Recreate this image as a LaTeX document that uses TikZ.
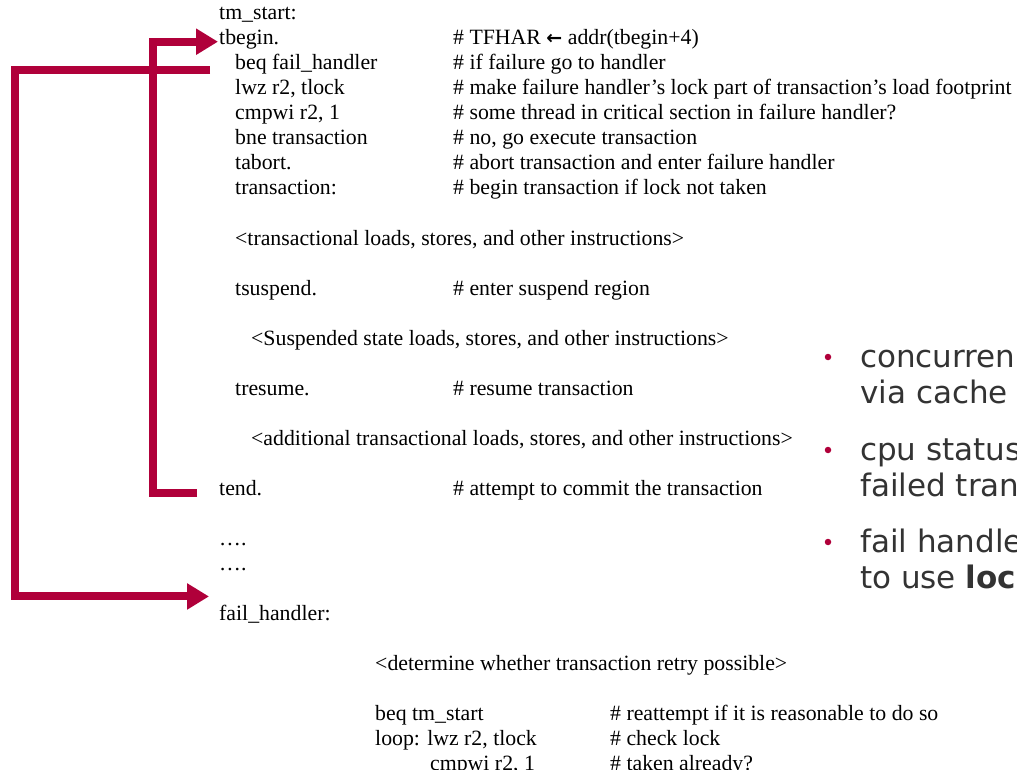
\documentclass[tikz,border=0pt]{standalone}
\usepackage{fontspec}
\setmainfont{Liberation Serif}
\newfontfamily\bulletfont{DejaVu Sans}
\usetikzlibrary{arrows.meta}
\definecolor{jumpred}{RGB}{176,0,58}
\definecolor{bodygray}{RGB}{51,51,51}
\tikzset{
  code/.style={anchor=base west, inner sep=0pt, font=\fontsize{21.8}{25}\selectfont},
  bullettext/.style={anchor=base west, inner sep=0pt, text=bodygray,
    font=\bulletfont\fontsize{31}{36}\selectfont},
  bulletdot/.style={circle, fill=jumpred, inner sep=0pt, minimum size=6.5pt},
  jump/.style={draw=jumpred, line width=8pt, line join=miter,
    -{Triangle[length=22pt,width=25pt]}}
}
\newcommand{\heavyleft}{{\bulletfont\bfseries\fontsize{19}{19}\selectfont ←}}
\begin{document}
\begin{tikzpicture}[x=1pt,y=-1pt]
\useasboundingbox (0,0) rectangle (1017,770);
\clip (0,0) rectangle (1017,770);

% transactional code listing
\node[code] (tmstart) at (219,20)  {tm\_start:};
\node[code] (tbegin)  at (219,45)  {tbegin.};
\node[code] (beq)     at (235,70)  {beq fail\_handler};
\node[code] (lwz)     at (235,95)  {lwz r2, tlock};
\node[code] (cmp)     at (235,120) {cmpwi r2, 1};
\node[code] (bne)     at (235,145) {bne transaction};
\node[code] (tabort)  at (235,170) {tabort.};
\node[code] (trans)   at (235,195) {transaction:};
\node[code] (tload)   at (235,245) {<transactional loads, stores, and other instructions>};
\node[code] (tsusp)   at (235,295) {tsuspend.};
\node[code] (sload)   at (251,345) {<Suspended state loads, stores, and other instructions>};
\node[code] (tres)    at (235,395) {tresume.};
\node[code] (aload)   at (251,445) {<additional transactional loads, stores, and other instructions>};
\node[code] (tend)    at (219,495) {tend.};
\node[code] (dotsa)   at (219,545) {….};
\node[code] (dotsb)   at (219,570) {….};
\node[code] (fh)      at (219,620) {fail\_handler:};
\node[code] (det)     at (375,670) {<determine whether transaction retry possible>};
\node[code] (beqs)    at (375,720) {beq tm\_start};
\node[code] (loop)    at (375,745) {loop: lwz r2, tlock};
\node[code] (cmpb)    at (430,770) {cmpwi r2, 1};

% comments
\node[code] (c1)  at (453,45)  {\# TFHAR \heavyleft{} addr(tbegin+4)};
\node[code] (c2)  at (453,70)  {\# if failure go to handler};
\node[code] (c3)  at (453,95)  {\# make failure handler’s lock part of transaction’s load footprint};
\node[code] (c4)  at (453,120) {\# some thread in critical section in failure handler?};
\node[code] (c5)  at (453,145) {\# no, go execute transaction};
\node[code] (c6)  at (453,170) {\# abort transaction and enter failure handler};
\node[code] (c7)  at (453,195) {\# begin transaction if lock not taken};
\node[code] (c8)  at (453,295) {\# enter suspend region};
\node[code] (c9)  at (453,395) {\# resume transaction};
\node[code] (c10) at (453,495) {\# attempt to commit the transaction};
\node[code] (c11) at (610,720) {\# reattempt if it is reasonable to do so};
\node[code] (c12) at (610,745) {\# check lock};
\node[code] (c13) at (610,770) {\# taken already?};

% bullet points
\node[bulletdot] (d1) at (828,357) {};
\node[bullettext] (b1a) at (860,367) {concurren};
\node[bullettext] (b1b) at (860,403) {via cache};
\node[bulletdot] (d2) at (828,450) {};
\node[bullettext] (b2a) at (860,460) {cpu status};
\node[bullettext] (b2b) at (860,496) {failed tran};
\node[bulletdot] (d3) at (828,542) {};
\node[bullettext] (b3a) at (860,552) {fail handle};
\node[bullettext] (b3b) at (860,588) {to use \textbf{loc}};

% failure jump: beq fail_handler -> fail_handler
\coordinate (jumpsrc) at ([xshift=-25pt]beq.base west);
\draw[jump] (jumpsrc) -- ++(-195,0) |- ([xshift=-10pt,yshift=8pt]fh.north west);

% retry loop: tend. -> tbegin.
\draw[jump] ([xshift=-22pt]tend.mid west) -| ([xshift=-66pt,yshift=1pt]tbegin.mid west)
  -- ([xshift=-1pt,yshift=1pt]tbegin.mid west);
\end{tikzpicture}
\end{document}
